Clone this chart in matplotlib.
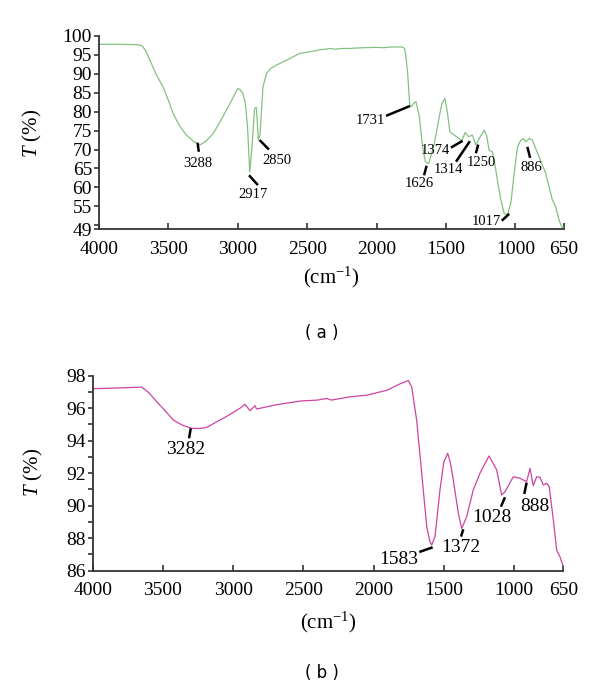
import matplotlib
matplotlib.use("Agg")
import matplotlib.pyplot as plt

plt.rcParams['font.family'] = ['Liberation Serif', 'DejaVu Serif']
plt.rcParams['mathtext.fontset'] = 'custom'
plt.rcParams['mathtext.rm'] = 'Liberation Serif'
plt.rcParams['mathtext.it'] = 'Liberation Serif:italic'

# ---- Panel (a) spectrum ----
wn_a = [4000, 3850, 3720, 3690, 3665, 3633, 3590, 3538, 3500, 3466, 3420, 3370, 3320, 3274,
        3230, 3178, 3130, 3082, 3040, 3010, 3000, 2985, 2963, 2945, 2930,
        2914, 2898, 2879, 2866, 2852, 2840, 2819, 2794, 2760, 2722, 2627, 2555, 2500, 2400, 2330,
        2300, 2250, 2200, 2100, 2000, 1950, 1900, 1820, 1800, 1790, 1776, 1762, 1752, 1730,
        1716, 1692, 1669, 1649, 1625, 1608, 1584, 1549, 1529, 1508, 1489, 1472, 1441, 1405,
        1386, 1362, 1338, 1310, 1285, 1261, 1225, 1208, 1189, 1166, 1141, 1130, 1105, 1081,
        1058, 1033, 1009, 985, 961, 942, 925, 901, 878, 830, 782, 758, 734, 710, 686, 667, 650]
T_a = [97.8, 97.8, 97.7, 97.4, 96.2, 93.6, 90.0, 86.5, 83.0, 79.5, 76.3, 73.8, 72.2, 71.2,
       72.2, 74.2, 77.2, 80.4, 83.3, 85.5, 86.1, 85.9, 84.8, 82.0, 76.0,
       64.1, 70.7, 80.8, 81.1, 72.5, 74.0, 86.5, 90.1, 91.5, 92.3, 94.0, 95.4, 95.7, 96.4, 96.7,
       96.5, 96.7, 96.7, 96.9, 97.0, 96.9, 97.1, 97.1, 96.8, 95.0, 90.0, 82.0, 81.3, 82.3,
       82.6, 78.6, 70.7, 66.8, 66.3, 68.5, 71.6, 78.6, 82.2, 83.5, 79.5, 74.7, 73.8, 72.9,
       72.3, 74.5, 73.4, 73.8, 71.2, 72.9, 75.1, 73.8, 69.8, 69.4, 64.6, 61.9, 56.7, 53.1,
       52.7, 55.8, 63.7, 70.7, 72.5, 72.9, 72.0, 72.9, 72.5, 68.1, 63.7, 60.2, 56.7, 54.9,
       51.4, 49.6, 49.2]

# ---- Panel (b) spectrum ----
wn_b = [4000, 3800, 3651, 3600, 3544, 3480, 3426, 3360, 3295, 3240, 3188, 3120, 3046, 2951,
        2916, 2880, 2845, 2833, 2700,
        2524, 2400, 2334, 2300, 2168, 2050, 1907, 1812, 1753, 1729, 1694, 1658, 1622, 1600, 1587,
        1563, 1528, 1500, 1473, 1455, 1433, 1397, 1373, 1338, 1291, 1243, 1179, 1124, 1089, 1065, 1006,
        958, 935, 911, 887, 864, 840, 816, 792, 768, 750, 721, 697, 674, 650]
T_b = [97.2, 97.25, 97.3, 96.95, 96.4, 95.8, 95.27, 94.95, 94.76, 94.75, 94.82, 95.15, 95.5, 96.0,
       96.24, 95.85, 96.15, 95.95, 96.2,
       96.44, 96.5, 96.6, 96.5, 96.7, 96.8, 97.1, 97.5, 97.7, 97.3, 95.27, 92.0, 88.7, 87.8, 87.58,
       88.1, 90.97, 92.7, 93.22, 92.7, 91.58, 89.53, 88.6, 89.32, 90.97, 92.0, 93.06, 92.2, 90.66, 90.86, 91.78,
       91.69, 91.58, 91.48, 92.3, 91.23, 91.78, 91.75, 91.27, 91.38, 91.17, 89.12, 87.27, 86.86, 86.25]

# ---- Annotations: label, text (wn, T), line start, line end ----
ann_a_labels = ["3288", "2917", "2850", "1731", "1626", "1374", "1314", "1250", "1017", "886"]
ann_a_text = [(3286, 66.3), (2891, 58.2), (2718, 67.2), (2047, 77.8), (1692, 61.0),
              (1577, 69.8), (1481, 64.8), (1244, 66.5), (1213, 50.9), (882, 65.2)]
ann_a_line = [((3290, 71.8), (3281, 69.4)), ((2919, 63.2), (2855, 60.6)),
              ((2843, 72.5), (2776, 70.0)), ((1932, 78.9), (1760, 81.5)),
              ((1658, 63.2), (1640, 65.7)), ((1465, 70.5), (1381, 72.3)),
              ((1428, 66.8), (1328, 72.2)), ((1285, 69.0), (1268, 71.3)),
              ((1098, 51.2), (1045, 53.0)), ((914, 70.7), (894, 67.8))]

ann_b_labels = ["3282", "1583", "1372", "1028", "888"]
ann_b_text = [(3338, 93.43), (1825, 86.7), (1380, 87.44), (1160, 89.26), (852, 89.94)]
ann_b_line = [((3302, 94.76), (3314, 94.15)), ((1675, 87.15), (1580, 87.44)),
              ((1378, 88.1), (1362, 88.55)), ((1094, 89.94), (1065, 90.52)),
              ((928, 90.72), (911, 91.42))]

x_ticks = [4000, 3500, 3000, 2500, 2000, 1500, 1000, 650]
y_ticks_a = [49, 50, 55, 60, 65, 70, 75, 80, 85, 90, 95, 100]
y_ticklabels_a = ["49", "", "55", "60", "65", "70", "75", "80", "85", "90", "95", "100"]
y_ticks_b = [86, 88, 90, 92, 94, 96, 98]
y_minor_b = [87, 89, 91, 93, 95, 97]

fig = plt.figure(figsize=(6, 6.9), dpi=100)
W, H = 600, 690

def add_axes(l, t, r, b):
    return fig.add_axes([l / W, 1 - b / H, (r - l) / W, (b - t) / H])

ax_a = add_axes(99, 36, 564, 229)
ax_b = add_axes(92.7, 375.7, 563.3, 570.7)

def style(ax, xpad):
    for s in ['top', 'right']:
        ax.spines[s].set_visible(False)
    for s in ['left', 'bottom']:
        ax.spines[s].set_color('#333333')
        ax.spines[s].set_linewidth(1.3)
    ax.set_xlim(4000, 650)
    ax.set_xticks(x_ticks)
    ax.tick_params(axis='x', direction='in', length=4, width=1.2, color='#333333',
                   pad=xpad, labelsize=14)
    ax.tick_params(axis='y', which='both', direction='out', length=3.5, width=1.2,
                   color='#333333', pad=1.5, labelsize=14)

style(ax_a, 9)
ax_a.plot(wn_a, T_a, color='#82c182', lw=0.9)
ax_a.set_ylim(49, 100)
ax_a.set_yticks(y_ticks_a)
ax_a.set_yticklabels(y_ticklabels_a)
for lab, (tx, ty), (p0, p1) in zip(ann_a_labels, ann_a_text, ann_a_line):
    ax_a.plot([p0[0], p1[0]], [p0[1], p1[1]], color='black', lw=1.8, solid_capstyle='butt')
    ax_a.text(tx, ty, lab, ha='center', va='center', fontsize=10.5)

style(ax_b, 8)
ax_b.plot(wn_b, T_b, color='#cc44a0', lw=0.9)
ax_b.set_ylim(86, 98)
ax_b.set_yticks(y_ticks_b)
ax_b.set_yticks(y_minor_b, minor=True)
for lab, (tx, ty), (p0, p1) in zip(ann_b_labels, ann_b_text, ann_b_line):
    ax_b.plot([p0[0], p1[0]], [p0[1], p1[1]], color='black', lw=1.8, solid_capstyle='butt')
    ax_b.text(tx, ty, lab, ha='center', va='center', fontsize=14)

# axis labels
fig.text(32 / W, 1 - 133 / H, '$T$ (%)', rotation=90, ha='center', va='center', fontsize=15)
fig.text(33 / W, 1 - 472 / H, '$T$ (%)', rotation=90, ha='center', va='center', fontsize=15)
fig.text(331 / W, 1 - 277 / H, '(cm$^{-1}$)', ha='center', va='center', fontsize=15)
fig.text(328 / W, 1 - 622 / H, '(cm$^{-1}$)', ha='center', va='center', fontsize=15)

fig.text(322 / W, 1 - 333 / H, '( a )', ha='center', va='center', fontsize=12,
         family=['DejaVu Sans'])
fig.text(322 / W, 1 - 673 / H, '( b )', ha='center', va='center', fontsize=12,
         family=['DejaVu Sans'])

fig.savefig('out.png', dpi=100)
